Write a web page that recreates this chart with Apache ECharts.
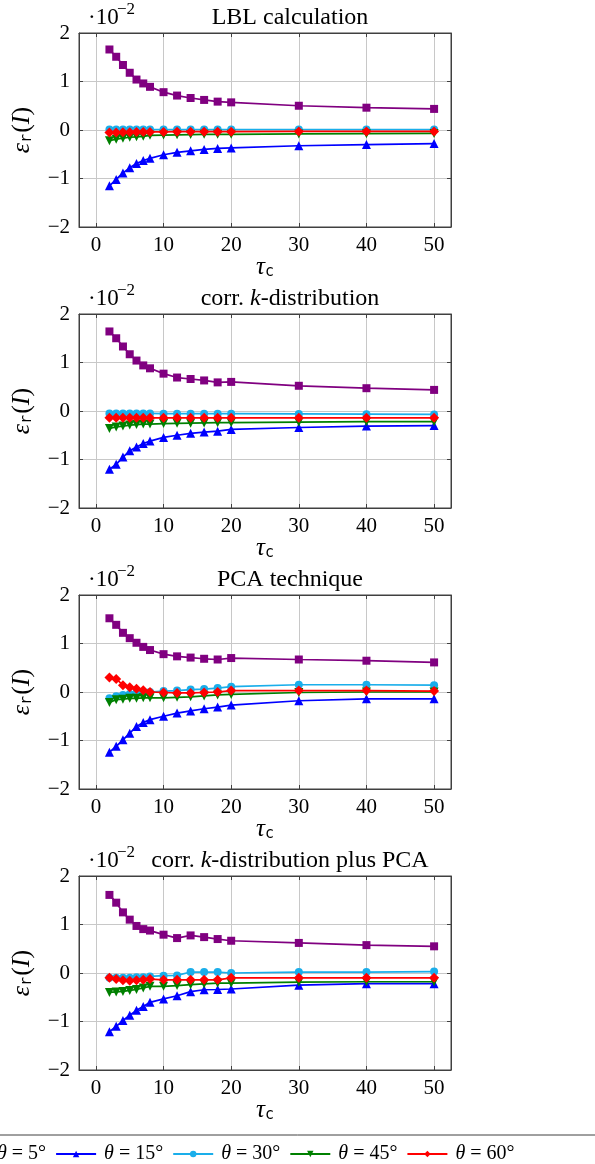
<!DOCTYPE html>
<html><head><meta charset="utf-8">
<script src="https://cdn.jsdelivr.net/npm/echarts@6/dist/echarts.min.js"></script>
<style>html,body{margin:0;padding:0;background:#fff}#c{width:595px;height:1164px}</style>
</head><body><div id="c"></div>
<script>
// ---- data ----
const tauC = [2,3,4,5,6,7,8,10,12,14,16,18,20,30,40,50];
const seriesNames = ['θ = 5°','θ = 15°','θ = 30°','θ = 45°','θ = 60°'];
const panelTitles = ['LBL calculation','corr. {i|k}-distribution','PCA technique','corr. {i|k}-distribution plus PCA'];

// LBL calculation
const lbl5  = [1.66,1.51,1.34,1.18,1.04,0.96,0.89,0.78,0.71,0.66,0.62,0.585,0.57,0.50,0.46,0.435];
const lbl15 = [-1.15,-1.02,-0.885,-0.78,-0.69,-0.63,-0.585,-0.51,-0.46,-0.43,-0.40,-0.38,-0.37,-0.325,-0.30,-0.28];
const lbl30 = [0.01,0.01,0.01,0.01,0.01,0.01,0.01,0.01,0.01,0.01,0.01,0.01,0.01,0.01,0.01,0.01];
const lbl45 = [-0.22,-0.19,-0.17,-0.15,-0.14,-0.13,-0.11,-0.105,-0.10,-0.095,-0.09,-0.09,-0.09,-0.08,-0.075,-0.07];
const lbl60 = [-0.05,-0.05,-0.045,-0.045,-0.04,-0.04,-0.04,-0.04,-0.035,-0.035,-0.035,-0.035,-0.035,-0.03,-0.03,-0.03];
// corr. k-distribution
const ckd5  = [1.64,1.50,1.33,1.17,1.04,0.94,0.88,0.77,0.69,0.66,0.63,0.59,0.60,0.52,0.47,0.435];
const ckd15 = [-1.20,-1.10,-0.95,-0.82,-0.74,-0.67,-0.62,-0.545,-0.50,-0.46,-0.435,-0.415,-0.38,-0.34,-0.31,-0.30];
const ckd30 = [-0.05,-0.05,-0.05,-0.05,-0.05,-0.05,-0.05,-0.055,-0.055,-0.055,-0.055,-0.055,-0.055,-0.06,-0.065,-0.07];
const ckd45 = [-0.36,-0.33,-0.31,-0.29,-0.28,-0.27,-0.27,-0.26,-0.255,-0.25,-0.245,-0.24,-0.24,-0.23,-0.22,-0.22];
const ckd60 = [-0.14,-0.14,-0.14,-0.14,-0.14,-0.14,-0.14,-0.14,-0.14,-0.14,-0.14,-0.14,-0.14,-0.14,-0.14,-0.14];
// PCA technique
const pca5  = [1.52,1.385,1.22,1.11,1.015,0.93,0.865,0.78,0.735,0.71,0.685,0.67,0.70,0.67,0.645,0.61];
const pca15 = [-1.24,-1.12,-0.985,-0.85,-0.71,-0.63,-0.57,-0.50,-0.435,-0.39,-0.345,-0.31,-0.27,-0.18,-0.14,-0.14];
const pca30 = [-0.13,-0.09,-0.06,-0.04,-0.02,-0.01,0.0,0.02,0.03,0.05,0.06,0.08,0.11,0.15,0.15,0.14];
const pca45 = [-0.215,-0.16,-0.15,-0.13,-0.13,-0.12,-0.12,-0.12,-0.11,-0.10,-0.08,-0.06,-0.05,-0.01,0.0,0.0];
const pca60 = [0.30,0.27,0.14,0.10,0.065,0.035,0.0,-0.01,-0.02,-0.02,-0.01,0.0,0.03,0.03,0.03,0.02];
// corr. k-distribution plus PCA
const ckp5  = [1.61,1.45,1.25,1.10,0.97,0.905,0.875,0.79,0.72,0.775,0.74,0.70,0.665,0.62,0.575,0.55];
const ckp15 = [-1.21,-1.10,-0.98,-0.87,-0.77,-0.69,-0.605,-0.535,-0.47,-0.385,-0.345,-0.34,-0.33,-0.25,-0.22,-0.22];
const ckp30 = [-0.10,-0.10,-0.10,-0.10,-0.09,-0.09,-0.07,-0.055,-0.05,0.02,0.02,0.02,0.0,0.02,0.02,0.03];
const ckp45 = [-0.40,-0.39,-0.38,-0.36,-0.34,-0.31,-0.275,-0.275,-0.26,-0.24,-0.225,-0.21,-0.21,-0.19,-0.18,-0.18];
const ckp60 = [-0.10,-0.125,-0.15,-0.16,-0.15,-0.14,-0.125,-0.14,-0.14,-0.14,-0.14,-0.14,-0.10,-0.10,-0.10,-0.10];

const panels = [
  [lbl5,lbl15,lbl30,lbl45,lbl60],
  [ckd5,ckd15,ckd30,ckd45,ckd60],
  [pca5,pca15,pca30,pca45,pca60],
  [ckp5,ckp15,ckp30,ckp45,ckp60]
];

// ---- styles ----
const FONT = '"Liberation Serif","DejaVu Serif",serif';
const colors = ['#800080','#0000ff','#1aaeea','#008000','#ff0000'];
const symbols = ['rect','triangle','circle','triangle','diamond'];
const symRot = [0,0,0,180,0];
const symSize = [8,9,8,9,10];
const tops = [33,314,595,876];
const H = 194, L = 79, W = 372;

const minus = v => (v < 0 ? '\u2212' + (-v) : String(v));

const grids = [], xAxes = [], yAxes = [], series = [], graphics = [];
tops.forEach((t, p) => {
  grids.push({left: L, top: t, width: W, height: H, show: true, borderColor: '#404040', borderWidth: 1, containLabel: false});
  const common = {type: 'value', gridIndex: p};
  xAxes.push(Object.assign({}, common, {
    position: 'bottom', min: -2.5, max: 52.5, splitNumber: 5,
    axisLine: {show: true, onZero: false, lineStyle: {color: '#404040', width: 1}},
    axisTick: {show: true, inside: true, length: 4, lineStyle: {color: '#404040'}},
    axisLabel: {show: true, margin: 8, showMinLabel: false, showMaxLabel: false, fontFamily: FONT, fontSize: 21, color: '#000', formatter: minus},
    splitLine: {show: true, lineStyle: {color: '#c8c8c8', width: 1}}
  }));
  xAxes.push(Object.assign({}, common, {
    position: 'top', min: -2.5, max: 52.5, splitNumber: 5,
    axisLine: {show: true, onZero: false, lineStyle: {color: '#404040', width: 1}},
    axisTick: {show: true, inside: true, length: 4, lineStyle: {color: '#404040'}},
    axisLabel: {show: false}, splitLine: {show: false}
  }));
  yAxes.push(Object.assign({}, common, {
    position: 'left', min: -2, max: 2, interval: 1,
    axisLine: {show: true, onZero: false, lineStyle: {color: '#404040', width: 1}},
    axisTick: {show: true, inside: true, length: 4, lineStyle: {color: '#404040'}},
    axisLabel: {show: true, margin: 9, fontFamily: FONT, fontSize: 21, color: '#000', formatter: minus},
    splitLine: {show: true, lineStyle: {color: '#c8c8c8', width: 1}}
  }));
  yAxes.push(Object.assign({}, common, {
    position: 'right', min: -2, max: 2, interval: 1,
    axisLine: {show: true, onZero: false, lineStyle: {color: '#404040', width: 1}},
    axisTick: {show: true, inside: true, length: 4, lineStyle: {color: '#404040'}},
    axisLabel: {show: false}, splitLine: {show: false}
  }));
  panels[p].forEach((vals, s) => {
    series.push({
      type: 'line', name: seriesNames[s],
      xAxisIndex: 2 * p, yAxisIndex: 2 * p,
      data: tauC.map((x, i) => [x, vals[i]]),
      symbol: symbols[s], symbolSize: symSize[s], symbolRotate: symRot[s],
      showAllSymbol: true, animation: false,
      lineStyle: {color: colors[s], width: 1.7},
      itemStyle: {color: colors[s], borderWidth: 0},
      emphasis: {disabled: true}, z: 2 + s
    });
  });
  // titles (centred at x = 290)
  graphics.push({type: 'text', x: 290, y: t - 15, silent: true,
    style: {text: panelTitles[p], fontFamily: FONT, fontSize: 24, fill: '#000', align: 'center', verticalAlign: 'middle',
      rich: {i: {fontFamily: FONT, fontSize: 24, fontStyle: 'italic'}}}});
  graphics.push({type: 'text', x: 88, y: t - 15, silent: true,
    style: {text: '·10', fontFamily: FONT, fontSize: 23, fill: '#000', verticalAlign: 'middle'}});
  graphics.push({type: 'text', x: 117, y: t - 23, silent: true,
    style: {text: '\u22122', fontFamily: FONT, fontSize: 17, fill: '#000', verticalAlign: 'middle'}});
  // y label
  graphics.push({type: 'text', x: 22, y: t + H / 2, rotation: Math.PI / 2, silent: true,
    style: {text: '{e|ε}{s|r}{p|(}{i|I}{p|)}', align: 'center', verticalAlign: 'middle',
      rich: {
        e: {fontFamily: FONT, fontSize: 26, fontStyle: 'italic', fill: '#000'},
        s: {fontFamily: '"DejaVu Sans Mono",monospace', fontSize: 15, fill: '#000', verticalAlign: 'bottom', padding: [8, 1, 0, 0]},
        p: {fontFamily: FONT, fontSize: 26, fill: '#000'},
        i: {fontFamily: FONT, fontSize: 26, fontStyle: 'italic', fill: '#000'}
      }}});
  // x label
  graphics.push({type: 'text', x: 265, y: t + H + 40, silent: true,
    style: {text: '{t|τ}{c|c}', align: 'center', verticalAlign: 'middle',
      rich: {
        t: {fontFamily: FONT, fontSize: 25, fontStyle: 'italic', fill: '#000'},
        c: {fontFamily: '"DejaVu Sans Mono",monospace', fontSize: 15, fill: '#000', verticalAlign: 'bottom', padding: [8, 0, 0, 0]}
      }}});
});
graphics.push({type: 'line', silent: true, shape: {x1: 0, y1: 1135, x2: 595, y2: 1135}, style: {stroke: '#404040', lineWidth: 1}});

const chart = echarts.init(document.getElementById('c'), null, {renderer: 'canvas'});
chart.setOption({
  animation: false,
  backgroundColor: '#fff',
  grid: grids, xAxis: xAxes, yAxis: yAxes, series: series,
  legend: {
    data: seriesNames, left: -52, top: 1144, padding: 0,
    itemWidth: 40, itemHeight: 8, itemGap: 9, selectedMode: false,
    textStyle: {fontFamily: FONT, fontSize: 20, color: '#000',
      rich: {i: {fontFamily: FONT, fontSize: 20, fontStyle: 'italic', color: '#000', padding: [0, 0, 0, 3]}, n: {fontFamily: FONT, fontSize: 20, color: '#000'}}},
    formatter: n => '{i|θ}{n|' + n.slice(1) + '}'
  },
  graphic: graphics
});
</script></body></html>
